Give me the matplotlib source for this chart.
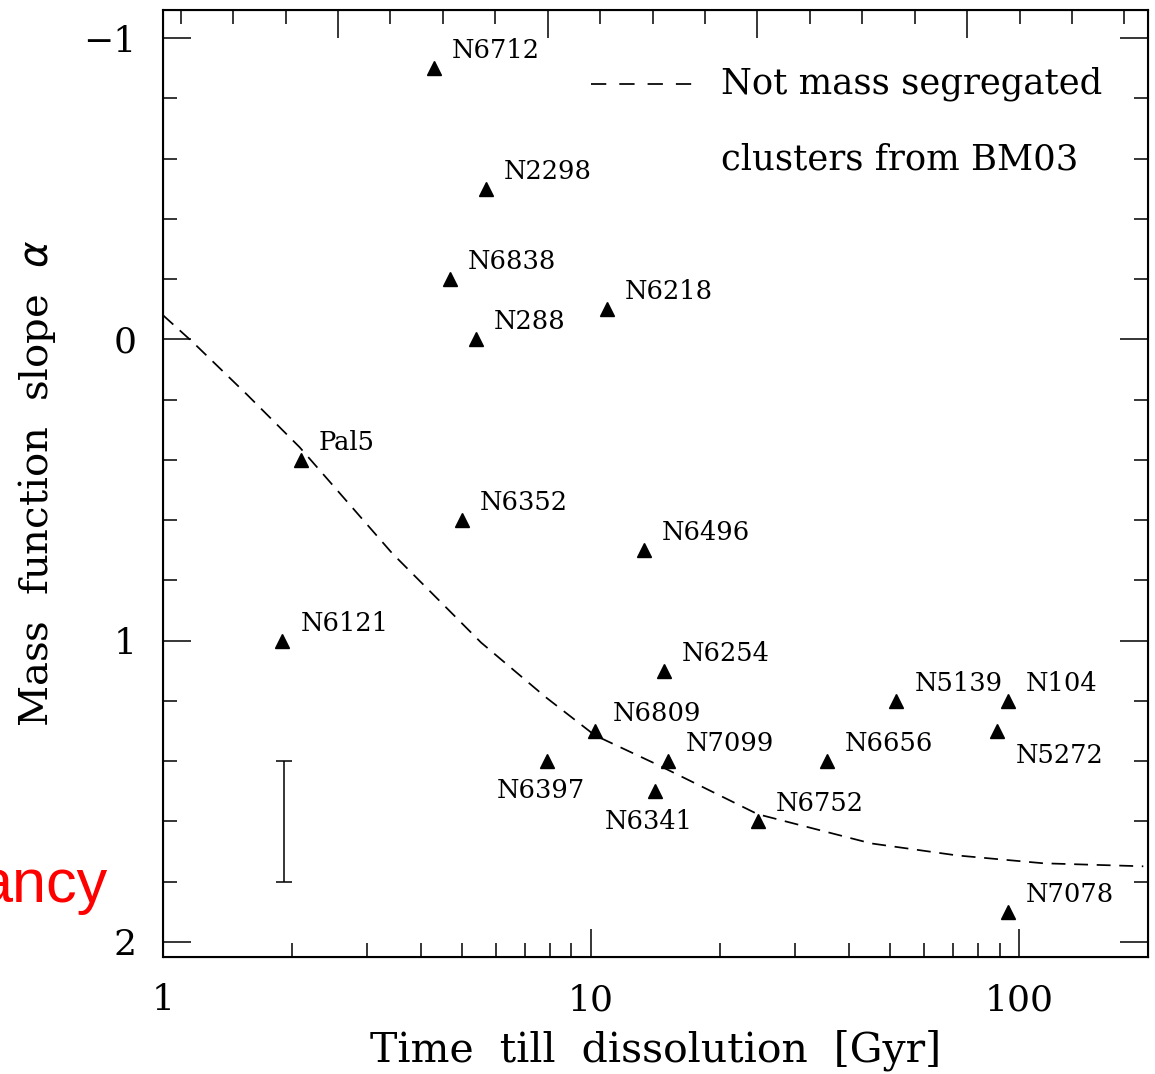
import numpy as np
import matplotlib
matplotlib.use("Agg")
import matplotlib.pyplot as plt
from matplotlib.ticker import FixedLocator, MultipleLocator, NullFormatter, LogLocator

# clusters: time till dissolution [Gyr], mass function slope alpha
names = ["N6712", "N2298", "N6838", "N6218", "N288", "Pal5", "N6352", "N6496",
         "N6121", "N6254", "N6809", "N6397", "N7099", "N6341", "N6752", "N6656",
         "N5139", "N104", "N5272", "N7078"]
t_diss = [4.30, 5.68, 4.68, 10.9, 5.38, 2.10, 4.99, 13.3,
          1.90, 14.8, 10.2, 7.88, 15.1, 14.1, 24.5, 35.5,
          51.7, 94.3, 88.9, 94.3]
alpha = [-0.90, -0.50, -0.20, -0.10, 0.00, 0.40, 0.60, 0.70,
         1.00, 1.10, 1.30, 1.40, 1.40, 1.50, 1.60, 1.40,
         1.20, 1.20, 1.30, 1.90]

# label placement (pixel offsets from the point)
below = {"N6397": (-6, -37), "N6341": (-6, -38)}
below_right = {"N5272": (18, -32)}

# dashed curve: not mass segregated clusters from BM03
curve_t = [1.0, 1.175, 1.57, 2.085, 3.43, 5.53, 7.84, 10.2, 14.4, 24.5, 45.1, 71.7, 114, 195]
curve_a = [-0.08, 0.01, 0.183, 0.358, 0.71, 1.006, 1.188, 1.314, 1.414, 1.576, 1.673, 1.713, 1.739, 1.749]

# typical error bar
err_t = 1.92
err_a = 1.60
err_size = 0.20

serif = "DejaVu Serif"

fig = plt.figure(figsize=(11.55, 10.74), dpi=100)
ax = fig.add_axes([163 / 1155, 1 - 957 / 1074, (1148 - 163) / 1155, (957 - 10) / 1074])

ax.plot(curve_t, curve_a, color="black", lw=1.25, dashes=(8, 5))
ax.plot(t_diss, alpha, linestyle="none", marker="^", ms=9.5, color="black")
ax.errorbar([err_t], [err_a], yerr=[err_size], fmt="none", ecolor="black",
            elinewidth=1.1, capsize=5.8, capthick=1.1)

for n, t, a in zip(names, t_diss, alpha):
    if n in below:
        dx, dy = below[n]
        ax.annotate(n, (t, a), xytext=(dx, dy), textcoords="offset pixels",
                    ha="center", va="baseline", fontsize=18.5, family=serif)
    elif n in below_right:
        dx, dy = below_right[n]
        ax.annotate(n, (t, a), xytext=(dx, dy), textcoords="offset pixels",
                    ha="left", va="baseline", fontsize=18.5, family=serif)
    else:
        ax.annotate(n, (t, a), xytext=(18, 10), textcoords="offset pixels",
                    ha="left", va="baseline", fontsize=18.5, family=serif)

ax.set_xscale("log")
ax.set_xlim(1, 200)
ax.set_ylim(2.05, -1.093)

ax.xaxis.set_major_locator(FixedLocator([1, 10, 100]))
ax.xaxis.set_minor_locator(LogLocator(base=10, subs=np.arange(2, 10)))
ax.xaxis.set_minor_formatter(NullFormatter())
ax.set_xticklabels(["1", "10", "100"])
ax.yaxis.set_minor_locator(MultipleLocator(0.2))
ax.set_yticks([-1, 0, 1, 2])
ax.set_yticklabels(["\u22121", "0", "1", "2"])

ax.tick_params(which="both", direction="in", top=False, right=True, width=1.1)
ax.tick_params(which="major", length=20, labelsize=26, pad=19)
ax.tick_params(which="minor", length=10)
for lab in ax.get_xticklabels() + ax.get_yticklabels():
    lab.set_family(serif)
for s in ax.spines.values():
    s.set_linewidth(1.5)

# top axis carries its own linear ticks without labels
top = ax.twiny()
top.set_xlim(1 - 175 / 209.7, 1 + 810 / 209.7)
top.xaxis.set_major_locator(MultipleLocator(1))
top.xaxis.set_minor_locator(MultipleLocator(0.25))
top.tick_params(which="both", direction="in", labeltop=False, width=1.1)
top.tick_params(which="major", length=20)
top.tick_params(which="minor", length=10)

ax.set_xlabel("Time  till  dissolution  [Gyr]", family=serif, fontsize=29.5, labelpad=9)
ax.set_ylabel("Mass  function  slope  $\\alpha$", family=serif, fontsize=29, labelpad=18)

# legend drawn by hand
ax.plot([0.435, 0.54], [0.922, 0.922], transform=ax.transAxes, color="black",
        lw=1.25, dashes=(8.8, 7.5))
ax.text(0.567, 0.922, "Not mass segregated", transform=ax.transAxes,
        family=serif, fontsize=25.5, va="center", ha="left")
ax.text(0.567, 0.842, "clusters from BM03", transform=ax.transAxes,
        family=serif, fontsize=25.5, va="center", ha="left")

fig.text(-22 / 1155, 1 - 902 / 1074, "ancy", color="red", fontsize=44,
         family="Liberation Sans", ha="left", va="baseline")

fig.savefig("out.png", dpi=100)
